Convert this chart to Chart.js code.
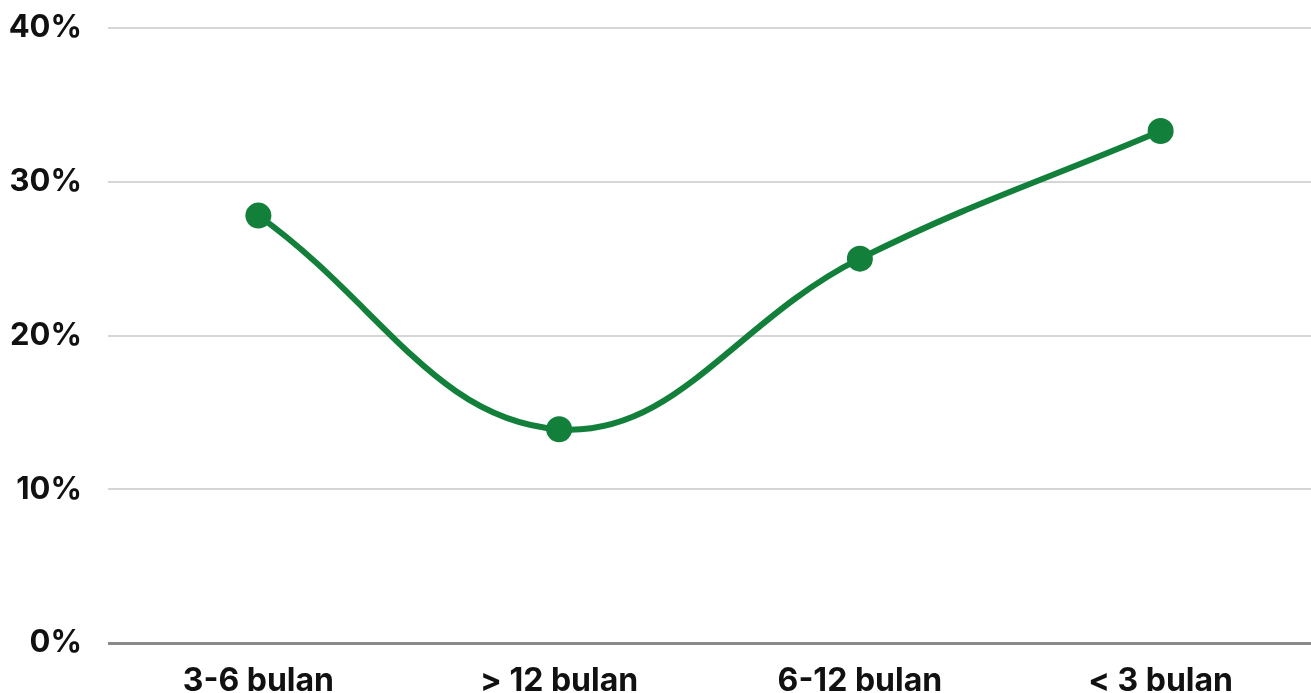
<!DOCTYPE html>
<html>
<head>
<meta charset="utf-8">
<script src="https://cdn.jsdelivr.net/npm/chart.js@4"></script>
<style>
  html, body { margin: 0; padding: 0; background: #ffffff; overflow: hidden; }
  #wrap { width: 1324px; height: 693px; position: relative; }
</style>
</head>
<body>
<div id="wrap"><canvas id="c"></canvas></div>
<script>
const categories = ['3-6 bulan', '> 12 bulan', '6-12 bulan', '< 3 bulan'];
const values = [27.8, 13.9, 25.0, 33.3];
const yTicks = [0, 10, 20, 30, 40];

const green = '#12803a';
const family = 'Inter, "Liberation Sans", sans-serif';

new Chart(document.getElementById('c'), {
  type: 'line',
  data: {
    labels: categories,
    datasets: [{
      data: values,
      borderColor: green,
      backgroundColor: green,
      borderWidth: 6,
      pointRadius: 13,
      pointHoverRadius: 13,
      pointBackgroundColor: green,
      pointBorderColor: green,
      pointBorderWidth: 0,
      tension: 0.4,
      fill: false
    }]
  },
  options: {
    responsive: true,
    maintainAspectRatio: false,
    animation: false,
    layout: { padding: { top: 28, right: 0, bottom: 0, left: 0 } },
    plugins: { legend: { display: false }, tooltip: { enabled: false } },
    scales: {
      x: {
        offset: true,
        grid: { display: false, drawTicks: false },
        border: { display: false },
        ticks: { color: '#111111', font: { family, size: 32, weight: '700' }, padding: 19, maxRotation: 0 },
        afterFit: (s) => { s.height = 50; s.paddingLeft = 0; s.paddingRight = 0; }
      },
      y: {
        min: 0,
        max: 40,
        afterBuildTicks: (s) => { s.ticks = yTicks.map(v => ({ value: v })); },
        grid: {
          drawTicks: false,
          color: (ctx) => (ctx.tick && ctx.tick.value === 0) ? '#8a8a8a' : '#d6d6d6',
          lineWidth: (ctx) => (ctx.tick && ctx.tick.value === 0) ? 3 : 2
        },
        border: { display: false },
        ticks: {
          color: '#111111',
          font: { family, size: 31, weight: '700' },
          padding: 26,
          callback: (v) => v + '%'
        },
        afterFit: (s) => { s.width = 108; s.paddingTop = 0; s.paddingBottom = 0; }
      }
    }
  }
});
</script>
</body>
</html>
